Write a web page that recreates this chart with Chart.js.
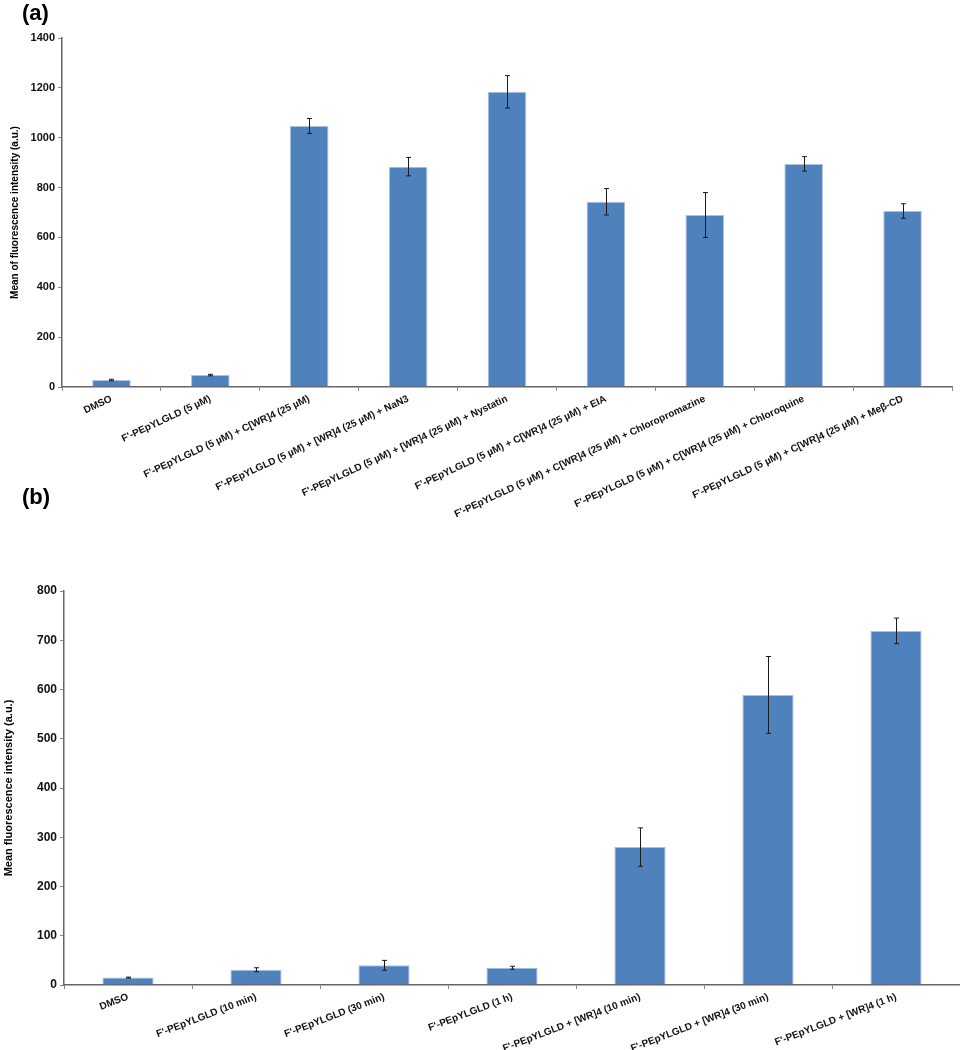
<!DOCTYPE html>
<html>
<head>
<meta charset="utf-8">
<title>Fluorescence uptake</title>
<script src="https://cdn.jsdelivr.net/npm/chart.js@4.4.1/dist/chart.umd.min.js"></script>
<style>
  body { margin: 0; background: #fff; width: 960px; height: 1050px; position: relative; overflow: hidden; font-family: "Liberation Sans", Arial, sans-serif; }
  .panel { position: absolute; left: 22px; font-size: 22px; font-weight: bold; color: #000; }
  #boxA { position: absolute; left: 0; top: 0; width: 960px; height: 540px; }
  #boxB { position: absolute; left: 0; top: 480px; width: 960px; height: 570px; }
</style>
</head>
<body>
<div id="boxA"><canvas id="chartA"></canvas></div>
<div id="boxB"><canvas id="chartB"></canvas></div>
<div class="panel" style="top:0px">(a)</div>
<div class="panel" style="top:484px">(b)</div>
<script>
// panel (a) data
const topLabels = [
  'DMSO',
  "F'-PEpYLGLD (5 µM)",
  "F'-PEpYLGLD (5 µM) + C[WR]4 (25 µM)",
  "F'-PEpYLGLD (5 µM) + [WR]4 (25 µM) + NaN3",
  "F'-PEpYLGLD (5 µM) + [WR]4 (25 µM) + Nystatin",
  "F'-PEpYLGLD (5 µM) + C[WR]4 (25 µM) + EIA",
  "F'-PEpYLGLD (5 µM) + C[WR]4 (25 µM) + Chloropromazine",
  "F'-PEpYLGLD (5 µM) + C[WR]4 (25 µM) + Chloroquine",
  "F'-PEpYLGLD (5 µM) + C[WR]4 (25 µM) + Meβ-CD"
];
const topValues = [28, 48, 1047, 884, 1184, 743, 690, 895, 706];
const topErrors = [3, 3, 30, 37, 65, 53, 90, 29, 29];

// panel (b) data
const bottomLabels = [
  'DMSO',
  "F'-PEpYLGLD (10 min)",
  "F'-PEpYLGLD (30 min)",
  "F'-PEpYLGLD (1 h)",
  "F'-PEpYLGLD + [WR]4 (10 min)",
  "F'-PEpYLGLD + [WR]4 (30 min)",
  "F'-PEpYLGLD + [WR]4 (1 h)"
];
const bottomValues = [15, 31, 40, 35, 280, 589, 719];
const bottomErrors = [1, 4, 10, 3, 39, 78, 26];

Chart.defaults.font.family = '"Liberation Sans", Arial, sans-serif';
Chart.defaults.color = '#111';

// draws +/- error bars on top of each bar
const errorBars = {
  id: 'errorBars',
  afterDatasetsDraw(chart, args, opts) {
    const ctx = chart.ctx;
    const yScale = chart.scales.y;
    const vals = chart.data.datasets[0].data;
    ctx.save();
    ctx.strokeStyle = '#1a1a1a';
    ctx.lineWidth = 1;
    chart.getDatasetMeta(0).data.forEach((bar, i) => {
      const e = opts.errors[i];
      const x = Math.round(bar.x) + 0.5;
      const yTop = yScale.getPixelForValue(vals[i] + e);
      const yBot = yScale.getPixelForValue(vals[i] - e);
      ctx.beginPath();
      ctx.moveTo(x, yTop); ctx.lineTo(x, yBot);
      ctx.moveTo(x - 2.5, yTop); ctx.lineTo(x + 2.5, yTop);
      ctx.moveTo(x - 2.5, yBot); ctx.lineTo(x + 2.5, yBot);
      ctx.stroke();
    });
    ctx.restore();
  }
};

function makeConfig(labels, values, errors, opt) {
  return {
    type: 'bar',
    data: {
      labels: labels,
      datasets: [{
        data: values,
        backgroundColor: '#4f81bd',
        borderColor: '#a9c2e0',
        borderWidth: 1,
        categoryPercentage: 1,
        barPercentage: opt.barPct
      }]
    },
    options: {
      responsive: true,
      maintainAspectRatio: false,
      animation: false,
      devicePixelRatio: 1,
      layout: { padding: { top: opt.padTop, right: opt.padRight, left: 0, bottom: 0 } },
      plugins: {
        legend: { display: false },
        tooltip: { enabled: false },
        errorBars: { errors: errors }
      },
      scales: {
        x: {
          grid: { offset: true, drawOnChartArea: false, tickLength: 4, color: '#8a8a8a' },
          border: { color: '#666', width: 1.5 },
          ticks: {
            autoSkip: false,
            maxRotation: opt.rot,
            minRotation: opt.rot,
            padding: 2,
            font: { size: 10, weight: 'bold' }
          },
          afterFit(s) { s.height = opt.xHeight; }
        },
        y: {
          min: 0,
          max: opt.yMax,
          ticks: {
            stepSize: opt.step,
            padding: 3,
            font: { size: opt.yFont, weight: 'bold' },
            callback: v => String(v)
          },
          grid: { drawOnChartArea: false, tickLength: 4, color: '#8a8a8a' },
          border: { color: '#666', width: 1.5 },
          title: {
            display: true,
            text: opt.yTitle,
            font: { size: opt.titleFont, weight: 'bold' },
            color: '#000',
            padding: { top: opt.titlePad, bottom: 4 }
          },
          afterFit(s) { s.width = opt.yWidth; }
        }
      }
    },
    plugins: [errorBars]
  };
}

const chartA = new Chart(document.getElementById('chartA'), makeConfig(topLabels, topValues, topErrors, {
  barPct: 0.39, rot: 25, xHeight: 153, yMax: 1400, step: 200, yFont: 11, titleFont: 10, titlePad: 9,
  yTitle: 'Mean of fluorescence intensity (a.u.)', yWidth: 62, padTop: 38, padRight: 8
}));

const chartB = new Chart(document.getElementById('chartB'), makeConfig(bottomLabels, bottomValues, bottomErrors, {
  barPct: 0.4, rot: 21, xHeight: 65, yMax: 800, step: 100, yFont: 12, titleFont: 11, titlePad: 2,
  yTitle: 'Mean fluorescence intensity (a.u.)', yWidth: 64, padTop: 111, padRight: 0
}));
</script>
</body>
</html>
